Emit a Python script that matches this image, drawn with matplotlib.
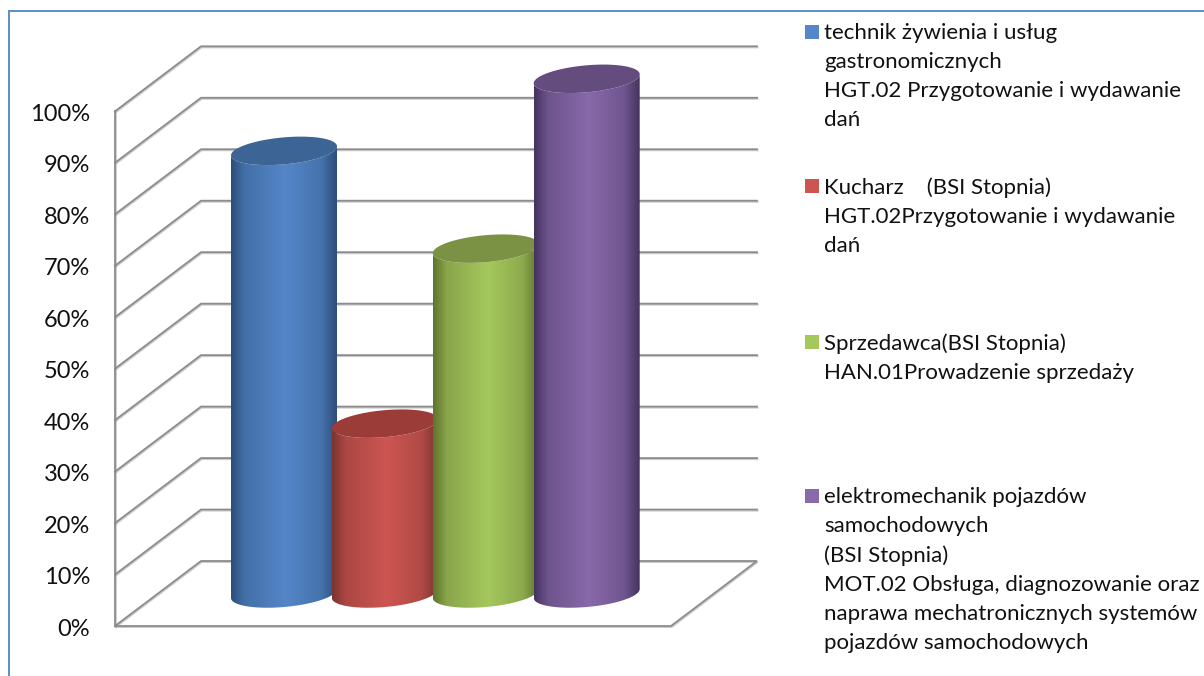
import matplotlib
matplotlib.use('Agg')
import matplotlib.pyplot as plt
import matplotlib.patheffects as pe
from matplotlib.colors import LinearSegmentedColormap, to_rgb
from matplotlib.patches import Polygon, Rectangle
import numpy as np

plt.rcParams['font.family'] = ['Lato', 'DejaVu Sans']

# Data
tick_values = [0, 10, 20, 30, 40, 50, 60, 70, 80, 90, 100]
tick_labels = ['0%', '10%', '20%', '30%', '40%', '50%', '60%', '70%', '80%', '90%', '100%']
values = [86, 33, 67, 100]
legend_labels = [
    'technik żywienia i usług\ngastronomicznych\nHGT.02 Przygotowanie i wydawanie\ndań',
    'Kucharz    (BSI Stopnia)\nHGT.02Przygotowanie i wydawanie\ndań',
    'Sprzedawca(BSI Stopnia)\nHAN.01Prowadzenie sprzedaży',
    'elektromechanik pojazdów\nsamochodowych\n(BSI Stopnia)\nMOT.02 Obsługa, diagnozowanie oraz\nnaprawa mechatronicznych systemów\npojazdów samochodowych',
]
legend_tops = [23, 177, 333, 487]

# (edge, light, top face)
colores = [
    ('#2c4f7a', '#5486c8', '#3c6494'),
    ('#7a3431', '#cd5551', '#9b3c38'),
    ('#5f732f', '#a5c85d', '#7b9144'),
    ('#44335f', '#8869aa', '#644c7e'),
]

W, H = 1204, 676
PX = 5.147          # pixels per one percent
Y0_PX = 626         # front floor line
DEPTH_X = 86
DEPTH_Y = 65 / PX
RIGHT = 757
FRONT_X = 115
GRID = '#8c8c8c'


def mezcla(borde, claro, p):
    return tuple(np.array(to_rgb(borde)) * (1 - p) + np.array(to_rgb(claro)) * p)


fig = plt.figure(figsize=(W / 100, H / 100), dpi=100)
ax = fig.add_axes([0, 0, 1, 1])
ax.axis('off')

sombra = [pe.SimpleLineShadow(offset=(0.5, -0.8), shadow_color='#8c8c8c', alpha=0.45), pe.Normal()]

# walls and floor
for v, lab in zip(tick_values, tick_labels):
    if v == 0:
        ax.plot([FRONT_X, RIGHT - DEPTH_X, RIGHT, FRONT_X + DEPTH_X, FRONT_X],
                [0, 0, DEPTH_Y, DEPTH_Y, 0], color=GRID, lw=1.3, zorder=1,
                solid_joinstyle='miter', path_effects=sombra)
    else:
        ax.plot([FRONT_X, FRONT_X + DEPTH_X, RIGHT], [v, v + DEPTH_Y, v + DEPTH_Y],
                color=GRID, lw=1.3, zorder=1, path_effects=sombra)
    ax.text(90, v - 0.6, lab, ha='right', va='center', fontsize=17, color='#111111')
ax.plot([FRONT_X, FRONT_X], [0, tick_values[-1]], color=GRID, lw=1.3, zorder=1, path_effects=sombra)

# cylinders
ANCHO = 106
PASO = 100.9
X_INI = 231
BASE = DEPTH_Y / 2
SEMI_B = 13.5 / PX
SHEAR = 4.5 / PX
t = np.linspace(0, 2 * np.pi, 181)
tt = np.linspace(np.pi, 2 * np.pi, 91)
for i, (v, (borde, claro, tapa)) in enumerate(zip(values, colores)):
    x0 = X_INI + i * PASO
    a = ANCHO / 2
    cx = x0 + a
    top = BASE + v
    # side of the cylinder: lower half of the base ellipse, lower half of the top ellipse
    bx = cx + a * np.cos(tt)
    by = BASE + SHEAR * np.cos(tt) + SEMI_B * np.sin(tt)
    ux = bx[::-1]
    uy = top + SHEAR * np.cos(tt[::-1]) + SEMI_B * np.sin(tt[::-1])
    cuerpo = Polygon(np.column_stack([np.r_[bx, ux], np.r_[by, uy]]), closed=True,
                     fc='none', ec='none', zorder=2 + i)
    ax.add_patch(cuerpo)
    cmap = LinearSegmentedColormap.from_list(
        'c', [(0, borde), (0.13, mezcla(borde, claro, 0.6)), (0.52, claro),
              (0.85, mezcla(borde, claro, 0.65)), (1, borde)])
    grad = ax.imshow(np.linspace(0, 1, 256).reshape(1, -1), cmap=cmap, aspect='auto',
                     extent=[x0, x0 + ANCHO, BASE - 5, top + 5], zorder=2 + i, interpolation='bilinear')
    grad.set_clip_path(cuerpo)
    ax.fill(cx + a * np.cos(t), top + SHEAR * np.cos(t) + SEMI_B * np.sin(t), color=tapa, lw=0, zorder=2 + i)

ax.set_xlim(0, W)
ax.set_ylim((Y0_PX - H) / PX, Y0_PX / PX)

# legend and frame, in pixels
ov = fig.add_axes([0, 0, 1, 1])
ov.set_xlim(0, W)
ov.set_ylim(H, 0)
ov.axis('off')
for lab, y, c in zip(legend_labels, legend_tops, colores):
    ov.text(824, y, lab, ha='left', va='top', fontsize=16, linespacing=1.56, color='#111111')
    ov.add_patch(Rectangle((805, y + 2), 14, 14, fc=c[1], ec='none'))
ov.plot([9, 9, W], [H, 11, 11], color='#5b8ccb', lw=1.4, solid_joinstyle='miter')

fig.savefig('out.png', dpi=100)
